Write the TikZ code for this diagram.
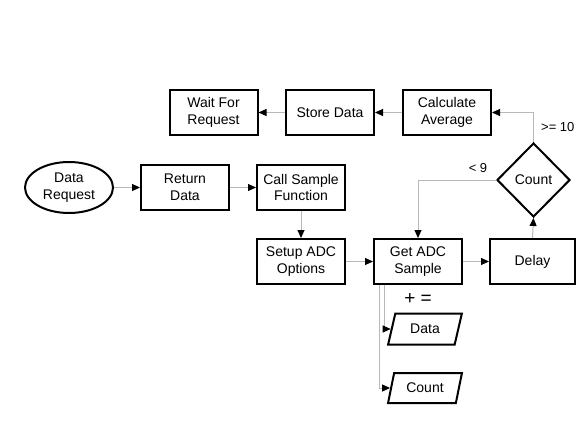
\documentclass[tikz,border=0pt]{standalone}
\usepackage{fontspec}
\setmainfont{Liberation Sans}
\usetikzlibrary{arrows.meta,shapes.geometric}
\begin{document}
\begin{tikzpicture}[x=1pt,y=-1pt,
  every node/.style={font=\fontsize{14}{16.5}\selectfont, align=center, inner sep=1pt},
  box/.style={draw=black, line width=2pt, minimum width=88pt, minimum height=45pt},
  io/.style={draw=black, line width=2pt, trapezium, trapezium left angle=72, trapezium right angle=108, trapezium stretches=true, minimum width=74pt, minimum height=31pt},
  conn/.style={draw=black!28, line width=1pt, -{Triangle[length=8pt,width=7pt,color=black]}},
  lbl/.style={font=\fontsize{13}{15}\selectfont}
]
\useasboundingbox (0,0) rectangle (576,436);
\node[box] (wait) at (213.5,112.5) {Wait For\\Request};
\node[box] (store) at (330,112.5) {Store Data};
\node[box] (calc) at (447,112.5) {Calculate\\Average};
\node[draw=black, line width=2pt, ellipse, minimum width=88pt, minimum height=51pt] (req) at (69,187.5) {Data\\Request};
\node[box] (ret) at (185,187.5) {Return\\Data};
\node[box] (call) at (301,187.5) {Call Sample\\Function};
\node[box] (setup) at (301,261.5) {Setup ADC\\Options};
\node[box] (get) at (418,261.5) {Get ADC\\Sample};
\node[box, minimum width=85pt] (delay) at (532.5,261.5) {Delay};
\node[draw=black, line width=2pt, diamond, minimum width=73pt, minimum height=74pt] (cnt) at (533.5,180) {Count};
\node[io] (data) at (425,329) {Data};
\node[io, minimum height=30pt] (count) at (425,388) {Count};
\node[lbl] (lt) at (478,168) {< 9};
\node[lbl, anchor=west] (ge) at (540,127) {>= 10};
\node[font=\fontsize{19}{21}\selectfont] (pe) at (418,299) {+ =};

\draw[conn] (req) -- (ret);
\draw[conn] (ret) -- (call);
\draw[conn] (call) -- (setup);
\draw[conn] (setup) -- (get);
\draw[conn] (get) -- (delay);
\draw[conn] (delay.north) -- (cnt.south);
\draw[conn] (cnt.west) -| (get.north);
\draw[conn] (cnt.north) |- (calc.east);
\draw[conn] (calc) -- (store);
\draw[conn] (store) -- (wait);
\draw[conn] ([xshift=11pt]get.south west) |- (data.west);
\draw[conn] ([xshift=6pt]get.south west) |- (count.west);
\end{tikzpicture}
\end{document}
